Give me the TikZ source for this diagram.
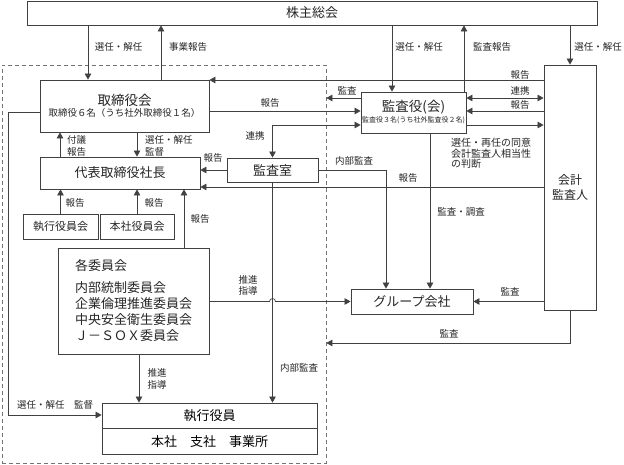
\documentclass[tikz,border=0pt]{standalone}
\usepackage{fontspec}
\setmainfont{Noto Sans CJK JP}
\usetikzlibrary{arrows.meta,calc}
\begin{document}
\begin{tikzpicture}[x=1pt,y=-1pt,
  box/.style={draw=black!75, line width=0.8pt, inner sep=0pt, fill=white, text=black!85},
  big/.style={font=\fontsize{13}{16}\selectfont},
  lab/.style={inner sep=0pt, text=black!85, font=\fontsize{9.5}{11.5}\selectfont},
  ln/.style={draw=black!75, line width=0.7pt},
  arr/.style={ln, -{Triangle[length=6pt,width=6.5pt]}},
  darr/.style={ln, {Triangle[length=6pt,width=6.5pt]}-{Triangle[length=6pt,width=6.5pt]}},
  dashedbox/.style={draw=black!55, line width=0.7pt, dash pattern=on 4pt off 3pt, inner sep=0pt}]
\useasboundingbox (0,0) rectangle (624,465);
% group frame
\node[dashedbox, minimum width=324, minimum height=398] (grp) at (164,264) {};
% boxes
\node[box, big, minimum width=570, minimum height=24] (sh) at (312,13) {株主総会};
\node[box, minimum width=169, minimum height=52, align=center] (tor) at (124.5,106)
  {{\fontsize{13.5}{14}\selectfont 取締役会}\\[-1pt]{\fontsize{9.5}{11}\selectfont 取締役６名（うち社外取締役１名）}};
\node[box, minimum width=105, minimum height=41, align=center] (kansa) at (413.5,112.5)
  {{\fontsize{13.5}{14}\selectfont 監査役(会)}\\[-1pt]{\fontsize{7}{9}\selectfont 監査役３名(うち社外監査役２名)}};
\node[box, minimum width=52, minimum height=245, align=center, font=\fontsize{12}{15}\selectfont] (kaikei) at (570,187.5) {会計\\監査人};
\node[box, big, minimum width=91, minimum height=24] (shitsu) at (272.5,170) {監査室};
\node[box, big, minimum width=160, minimum height=32] (daihyo) at (120,173) {代表取締役社長};
\node[box, minimum width=75, minimum height=25, font=\fontsize{11}{13}\selectfont] (shikkoukai) at (60.5,226.5) {執行役員会};
\node[box, minimum width=74, minimum height=25, font=\fontsize{11}{13}\selectfont] (honsha) at (137,226.5) {本社役員会};
\node[box, big, minimum width=151, minimum height=106, align=left] (iinkai) at (133.5,301)
  {各委員会\\[6pt]内部統制委員会\\企業倫理推進委員会\\中央安全衛生委員会\\Ｊ－ＳＯＸ委員会};
\node[box, big, minimum width=122, minimum height=25] (group) at (412,301.5) {グループ会社};
\node[box, minimum width=215, minimum height=51] (shikkou) at (209.5,428.5) {};
\draw[ln] (shikkou.west) -- (shikkou.east);
\node[big, inner sep=0pt] (shikkout) at (209.5,416) {執行役員};
\node[big, inner sep=0pt] (shikkous) at (209.5,441.5) {本社　支社　事業所};
% helper coordinates
\coordinate (vA) at (88,0);
\coordinate (vB) at (161,0);
\coordinate (vC) at (392,0);
\coordinate (vD) at (464,0);
\coordinate (v60) at (60,0);
\coordinate (v137) at (137,0);
\coordinate (v184) at (184,0);
\coordinate (v139) at (139,0);
\coordinate (v386) at (386,0);
\coordinate (v430) at (430,0);
\coordinate (v8) at (8,0);
\coordinate (hA) at (0,80);
\coordinate (hB) at (0,98);
\coordinate (hC) at (0,111);
\coordinate (hD) at (0,125);
\coordinate (hE) at (0,187);
\coordinate (hG) at (0,343);
\coordinate (hH) at (0,415);
\coordinate (hI) at (0,112);
% connectors
\draw[arr] (sh.south -| vA) -- (tor.north -| vA);
\draw[arr] (tor.north -| vB) -- (sh.south -| vB);
\draw[arr] (sh.south -| vC) -- (kansa.north -| vC);
\draw[arr] (kansa.north -| vD) -- (sh.south -| vD);
\draw[arr] (sh.south -| kaikei) -- (kaikei.north);
\draw[arr] (kaikei.west |- hA) -- (tor.east |- hA);
\draw[arr] (kansa.west |- hB) -- (grp.east |- hB);
\draw[arr] (tor.east |- hC) -- (kansa.west |- hC);
\draw[darr] (kansa.west |- hD) -| (shitsu.north);
\draw[arr] (shitsu.west) -- (daihyo.east |- shitsu.west);
\draw[arr] (kaikei.west |- hE) -- (daihyo.east |- hE);
\draw[arr] (daihyo.north -| v60) -- (tor.south -| v60);
\draw[arr] (tor.south -| v137) -- (daihyo.north -| v137);
\draw[arr] (shikkoukai.north) -- (daihyo.south -| shikkoukai.north);
\draw[arr] (honsha.north) -- (daihyo.south -| honsha.north);
\draw[arr] (iinkai.north -| v184) -- (daihyo.south -| v184);
\draw[arr] (shitsu.south) -- (shitsu.south |- shikkou.north);
\draw[arr] (iinkai.east |- group.west) -- ($(shitsu.south |- group.west)+(-3,0)$) arc (180:360:3) -- (group.west);
\draw[arr] (kaikei.west |- group.east) -- (group.east);
\draw[arr] (kaikei.south) |- (grp.east |- hG);
\draw[arr] (shitsu.east) -| (group.north -| v386);
\draw[arr] (kansa.south -| v430) -- (group.north -| v430);
\draw[darr] (kansa.east |- hB) -- (kaikei.west |- hB);
\draw[arr] (kaikei.west |- hC) -- (kansa.east |- hC);
\draw[arr] (kansa.east |- hD) -- (kaikei.west |- hD);
\draw[arr] (iinkai.south -| v139) -- (shikkou.north -| v139);
\draw[arr] (tor.west |- hI) -| (v8 |- hH) -- (shikkou.west |- hH);
% labels
\node[lab] (l1) at (118.5,47) {選任・解任};
\node[lab] (l2) at (188,47) {事業報告};
\node[lab] (l3) at (419,47) {選任・解任};
\node[lab] (l4) at (492,47) {監査報告};
\node[lab] (l5) at (598,47) {選任・解任};
\node[lab] (l6) at (520,75) {報告};
\node[lab] (l7) at (520,91) {連携};
\node[lab] (l8) at (520,105) {報告};
\node[lab] (l9) at (347,91) {監査};
\node[lab] (l10) at (270,103) {報告};
\node[lab] (l11) at (255,136) {連携};
\node[lab] (l12) at (213,158) {報告};
\node[lab] (l13) at (354,161) {内部監査};
\node[lab, anchor=west, align=left] (l14) at (67,146) {付議\\報告};
\node[lab, anchor=west, align=left] (l15) at (145,146) {選任・解任\\監督};
\node[lab] (l16) at (75,203) {報告};
\node[lab] (l17) at (154,203) {報告};
\node[lab] (l18) at (200,219) {報告};
\node[lab] (l19) at (408,178) {報告};
\node[lab] (l20) at (461,212) {監査・調査};
\node[lab, anchor=north west, align=left, font=\fontsize{10}{10.5}\selectfont] (l21) at (451,138) {選任・再任の同意\\会計監査人相当性\\の判断};
\node[lab, align=left] (l22) at (248,285.5) {推進\\指導};
\node[lab, align=left] (l23) at (157,379) {推進\\指導};
\node[lab] (l24) at (299,368) {内部監査};
\node[lab] (l25) at (55,405) {選任・解任　監督};
\node[lab] (l26) at (510,292) {監査};
\node[lab] (l27) at (449,334) {監査};
\end{tikzpicture}
\end{document}
